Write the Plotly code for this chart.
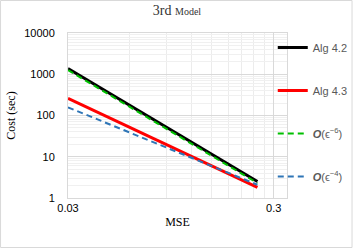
import plotly.graph_objects as go

# Data
mse = [0.03, 0.25]
alg42 = [1380, 2.52]
alg43 = [260, 1.80]
ref6 = [1260, 2.3]
ref4 = [158, 2.09]

x_ticks = [0.03, 0.3]
x_ticklabels = ["0.03", "0.3"]
x_minor = [0.06, 0.09, 0.12, 0.15, 0.18, 0.21, 0.24, 0.27]
y_ticks = [1, 10, 100, 1000, 10000]
y_ticklabels = ["1", "10", "100", "1000", "10000"]

fig = go.Figure()
fig.add_trace(go.Scatter(x=mse, y=alg42, mode="lines", name="Alg 4.2",
                         line=dict(color="black", width=3), legendgroup="a"))
fig.add_trace(go.Scatter(x=mse, y=alg43, mode="lines", name="Alg 4.3",
                         line=dict(color="#ff0000", width=3), legendgroup="b"))
fig.add_trace(go.Scatter(x=mse, y=ref6, mode="lines",
                         name="<b><i>O</i></b>(ϵ<sup>−6</sup>)",
                         line=dict(color="#00c000", width=2, dash="6px,4px"), legendgroup="c"))
fig.add_trace(go.Scatter(x=mse, y=ref4, mode="lines",
                         name="<b><i>O</i></b>(ϵ<sup>−4</sup>)",
                         line=dict(color="#2e75b6", width=2, dash="6px,4px"), legendgroup="d"))

fig.update_layout(
    width=354, height=249,
    margin=dict(l=68, r=67, t=33, b=51, autoexpand=False),
    paper_bgcolor="white", plot_bgcolor="white",
    title=dict(text="3rd <span style='font-size:10px'>Model</span>",
               x=0.5, xanchor="center", y=0.958, yanchor="middle",
               font=dict(family="Liberation Serif", size=14, color="#333333")),
    legend=dict(x=0.935, xanchor="left", y=1.0, yanchor="top",
                font=dict(family="Liberation Sans", size=11, color="#595959"),
                tracegroupgap=24, itemwidth=30, bgcolor="rgba(0,0,0,0)"),
    showlegend=True,
    shapes=[dict(type="rect", xref="paper", yref="paper",
                 x0=-0.308, x1=1.297, y0=-0.300, y1=1.197,
                 line=dict(color="#d9d9d9", width=1), layer="below")],
)
fig.update_xaxes(type="log", range=[-1.5229, -0.4584],
                 tickvals=x_ticks, ticktext=x_ticklabels,
                 tickfont=dict(family="Liberation Sans", size=11, color="black"),
                 showgrid=True, gridcolor="#d9d9d9", gridwidth=1,
                 minor=dict(tickmode="array", tickvals=x_minor, showgrid=True,
                            gridcolor="#ececec", gridwidth=1),
                 showline=True, linecolor="#d9d9d9", mirror=True, ticks="",
                 title=dict(text="MSE", font=dict(family="Liberation Serif", size=12, color="black"), standoff=4),
                 zeroline=False)
fig.update_yaxes(type="log", range=[0, 4],
                 tickvals=y_ticks, ticktext=y_ticklabels,
                 tickfont=dict(family="Liberation Sans", size=11, color="black"),
                 showgrid=True, gridcolor="#d9d9d9", gridwidth=1,
                 minor=dict(showgrid=True, gridcolor="#f0f0f0", gridwidth=1, dtick="D1"),
                 showline=True, linecolor="#d9d9d9", mirror=True, ticks="",
                 ticklabelstandoff=10,
                 title=dict(text="Cost (sec)", font=dict(family="Liberation Serif", size=12, color="black"), standoff=6),
                 zeroline=False)

fig.write_html("out.html", config={"displayModeBar": False},
               post_script="document.body.style.margin='0';document.body.style.overflow='hidden';")
